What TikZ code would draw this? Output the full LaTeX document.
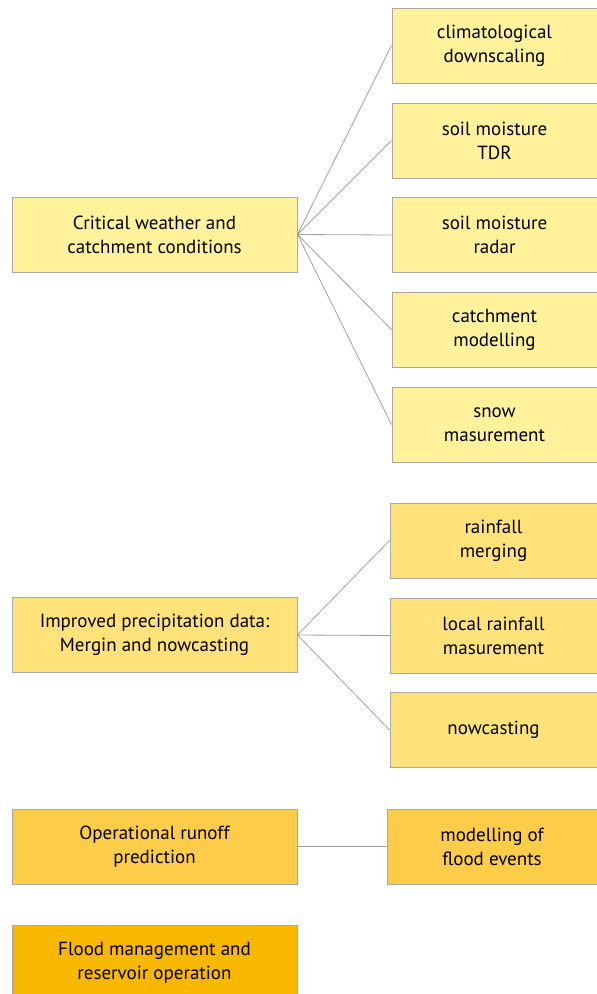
\documentclass[tikz,border=0pt]{standalone}
\usepackage{fontspec}
\setmainfont{PT Sans}
\definecolor{gA}{HTML}{FFF29A}
\definecolor{gB}{HTML}{FFE27A}
\definecolor{gC}{HTML}{FDCD4A}
\definecolor{gD}{HTML}{F8B800}
\definecolor{bord}{HTML}{A8A8A8}
\definecolor{conn}{HTML}{A0A0A0}
\begin{document}
\begin{tikzpicture}[x=1pt,y=-1pt,
  box/.style={draw=bord,line width=1pt,align=center,inner sep=0pt,font=\fontsize{19}{24}\selectfont,text=black},
  cn/.style={draw=conn,line width=0.8pt}]
\useasboundingbox (0,0) rectangle (597,994);
% group A
\node[box,fill=gA,minimum width=285,minimum height=75] (L1) at (154.5,234.5) {Critical weather and\\catchment conditions};
\node[box,fill=gA,minimum width=205,minimum height=75] (R1) at (494.5,45.5) {climatological\\downscaling};
\node[box,fill=gA,minimum width=205,minimum height=75] (R2) at (494.5,140.5) {soil moisture\\TDR};
\node[box,fill=gA,minimum width=205,minimum height=75] (R3) at (494.5,235) {soil moisture\\radar};
\node[box,fill=gA,minimum width=205,minimum height=75] (R4) at (494.5,329.5) {catchment\\modelling};
\node[box,fill=gA,minimum width=205,minimum height=75] (R5) at (494.5,424.5) {snow\\masurement};
% group B
\node[box,fill=gB,minimum width=285,minimum height=75] (L2) at (154.5,635) {Improved precipitation data:\\Mergin and nowcasting};
\node[box,fill=gB,minimum width=207,minimum height=75] (S1) at (493.5,540.5) {rainfall\\merging};
\node[box,fill=gB,minimum width=207,minimum height=75] (S2) at (493.5,635.5) {local rainfall\\masurement};
\node[box,fill=gB,minimum width=207,minimum height=75] (S3) at (493.5,730) {nowcasting};
% group C
\node[box,fill=gC,minimum width=285,minimum height=75] (L3) at (154.5,846.5) {Operational runoff\\prediction};
\node[box,fill=gC,minimum width=210,minimum height=75] (T1) at (492,846.5) {modelling of\\flood events};
% group D
\node[box,fill=gD,minimum width=285,minimum height=76] (L4) at (154.5,963) {Flood management and\\reservoir operation};
% connectors
\foreach \r in {R1,R2,R3,R4,R5} \draw[cn] (L1.east) -- (\r.west);
\foreach \r in {S1,S2,S3} \draw[cn] (L2.east) -- (\r.west);
\draw[cn] (L3.east) -- (T1.west);
\end{tikzpicture}
\end{document}
